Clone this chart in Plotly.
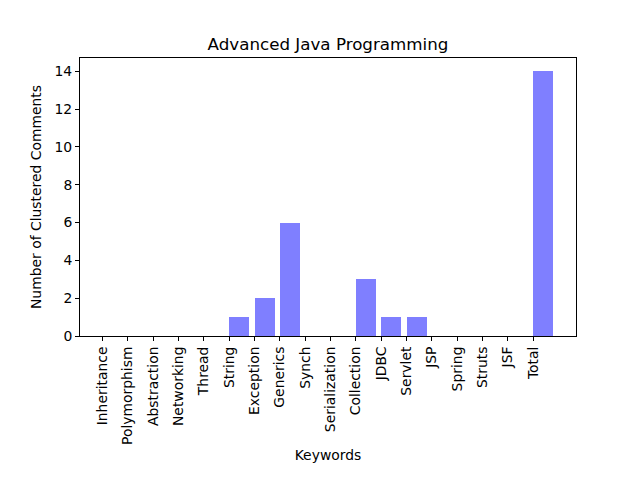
import plotly.graph_objects as go

keywords = ["Inheritance", "Polymorphism", "Abstraction", "Networking", "Thread",
            "String", "Exception", "Generics", "Synch", "Serialization",
            "Collection", "JDBC", "Servlet", "JSP", "Spring", "Struts", "JSF", "Total"]
counts = [0, 0, 0, 0, 0, 1, 2, 6, 0, 0, 3, 1, 1, 0, 0, 0, 0, 14]
y_ticks = [0, 2, 4, 6, 8, 10, 12, 14]

positions = list(range(len(keywords)))
font_family = "DejaVu Sans"

fig = go.Figure(go.Bar(
    x=positions, y=counts, width=0.8, offset=0,
    marker=dict(color="rgba(0,0,255,0.5)", line=dict(width=0)),
))

fig.update_layout(
    width=640, height=480,
    margin=dict(l=80, r=64, t=58, b=144),
    paper_bgcolor="white", plot_bgcolor="white",
    font=dict(family=font_family, size=13.9, color="black"),
    showlegend=False,
    title=dict(text="Advanced Java Programming", x=0.5, xref="paper", xanchor="center",
               y=1, yref="paper", yanchor="bottom", pad=dict(b=8),
               font=dict(size=16.7, family=font_family, color="black")),
    bargap=0,
)
fig.update_xaxes(
    range=[-0.89, 18.69], tickmode="array", tickvals=positions, ticktext=keywords,
    tickangle=-90, ticks="outside", ticklen=4, tickwidth=1, tickcolor="black",
    showline=True, linecolor="black", linewidth=1, mirror=True,
    showgrid=False, zeroline=False,
    title=dict(text="Keywords", standoff=6, font=dict(size=13.9)),
)
fig.update_yaxes(
    range=[0, 14.7], tickmode="array", tickvals=y_ticks,
    ticks="outside", ticklen=4, tickwidth=1, tickcolor="black",
    showline=True, linecolor="black", linewidth=1, mirror=True,
    showgrid=False, zeroline=False,
    title=dict(text="Number of Clustered Comments", standoff=9, font=dict(size=13.9)),
)

fig.write_html("out.html")
